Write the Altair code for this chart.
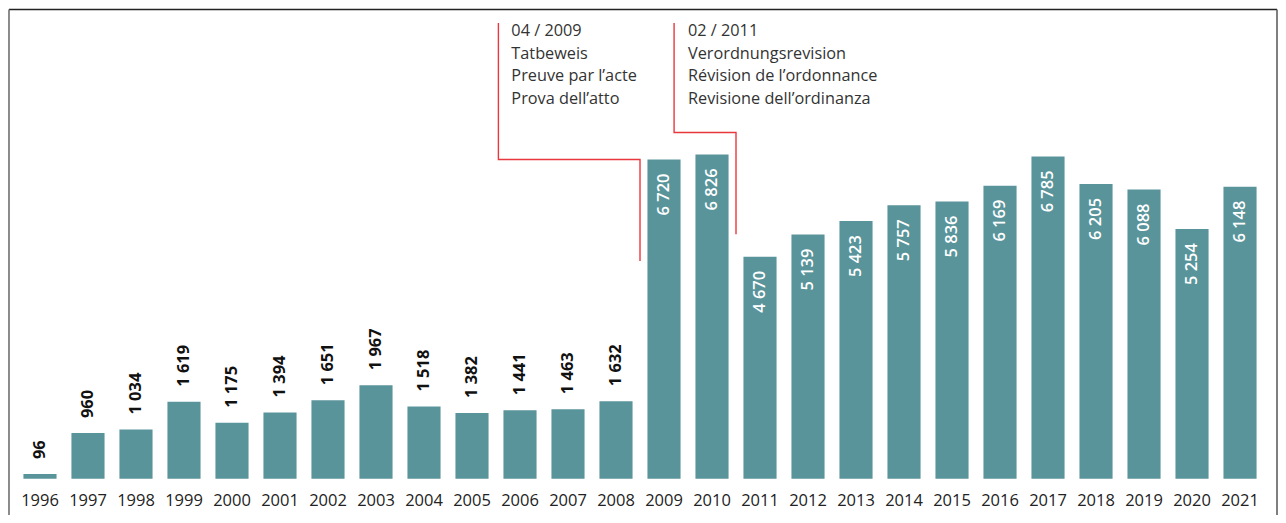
import altair as alt
import pandas as pd

years = [str(y) for y in range(1996, 2022)]
values = [96, 960, 1034, 1619, 1175, 1394, 1651, 1967, 1518, 1382, 1441, 1463, 1632,
          6720, 6826, 4670, 5139, 5423, 5757, 5836, 6169, 6785, 6205, 6088, 5254, 6148]

ann_texts = ["04 / 2009\nTatbeweis\nPreuve par l’acte\nProva dell’atto",
             "02 / 2011\nVerordnungsrevision\nRévision de l’ordonnance\nRevisione dell’ordinanza"]
ann_text_x = [2005.82, 2009.5]
ann_text_y = [9313, 9313]

# annotation leader lines (x in year units, y in data units)
ann_line_id = [1, 1, 1, 1, 2, 2, 2, 2]
ann_line_order = [0, 1, 2, 3, 0, 1, 2, 3]
ann_line_x = [2005.55, 2005.55, 2008.5, 2008.5, 2009.21, 2009.21, 2010.5, 2010.5]
ann_line_y = [9592, 6721, 6721, 4583, 9592, 7288, 7288, 5144]

df = pd.DataFrame({
    "year": years,
    "value": values,
    "label": [f"{v:,}".replace(",", " ") for v in values],
})
df_text = pd.DataFrame({"x": ann_text_x, "y": ann_text_y, "t": ann_texts})
df_line = pd.DataFrame({"id": ann_line_id, "o": ann_line_order, "x": ann_line_x, "y": ann_line_y})

W, H = 1250, 460
FONT = "Open Sans"
ymax = 9670

xscale = alt.Scale(domain=years, paddingInner=0.31, paddingOuter=0.155)
xaxis = alt.Axis(labelAngle=0, labelFontSize=16.5, labelColor="#222",
                 labelFont=FONT, domain=False, ticks=False, labelPadding=14,
                 grid=False)
xenc = alt.X("year:N", sort=years, title=None, scale=xscale, axis=xaxis)
yenc = alt.Y("value:Q", title=None, scale=alt.Scale(domain=[0, ymax], nice=False), axis=None)

base = alt.Chart(df)
bars = base.mark_bar(color="#5a949b").encode(x=xenc, y=yenc)

lab_out = base.transform_filter("datum.value < 3000").mark_text(
    angle=270, align="left", baseline="middle", dx=15, fontSize=16.5,
    fontWeight="bold", font=FONT, color="#111"
).encode(x=xenc, y=yenc, text="label:N")

lab_in = base.transform_filter("datum.value >= 3000").mark_text(
    angle=270, align="right", baseline="middle", dx=-14, fontSize=16.5,
    fontWeight=600, font=FONT, color="white"
).encode(x=xenc, y=yenc, text="label:N")

bar_layer = alt.layer(bars, lab_out, lab_in)

xlin = alt.X("x:Q", scale=alt.Scale(domain=[1995.5, 2021.5], nice=False, zero=False), axis=None)
ylin = alt.Y("y:Q", scale=alt.Scale(domain=[0, ymax], nice=False), axis=None)

ann_lines = alt.Chart(df_line).mark_line(color="#e8383d", strokeWidth=1.4).encode(
    x=xlin, y=ylin, detail="id:N", order="o:Q")

ann_txt = alt.Chart(df_text).mark_text(
    align="left", baseline="alphabetic", lineBreak="\n", lineHeight=22.5,
    fontSize=16.3, font=FONT, color="#333"
).encode(x=xlin, y=ylin, text="t:N")

ann_layer = alt.layer(ann_lines, ann_txt)

one = pd.DataFrame({"a": [0]})
frame_top = alt.Chart(one).mark_rule(color="#222", strokeWidth=1.5).encode(
    x=alt.value(-7), x2=alt.value(1263), y=alt.value(-10))
frame_left = alt.Chart(one).mark_rule(color="#666", strokeWidth=1.5).encode(
    x=alt.value(-7), y=alt.value(-10), y2=alt.value(H + 60))
frame_right = alt.Chart(one).mark_rule(color="#555", strokeWidth=1.5).encode(
    x=alt.value(1263), y=alt.value(-10), y2=alt.value(H + 60))

chart = alt.layer(bar_layer, ann_layer, frame_top, frame_left, frame_right).resolve_scale(
    x="independent"
).properties(
    width=W, height=H,
    background="white",
    autosize=alt.AutoSizeParams(type="none"),
    padding={"left": 8, "top": 11, "right": 14, "bottom": 36},
).configure_view(stroke=None, strokeWidth=0)

chart.save("out.html", embed_options={"renderer": "svg", "actions": False})
